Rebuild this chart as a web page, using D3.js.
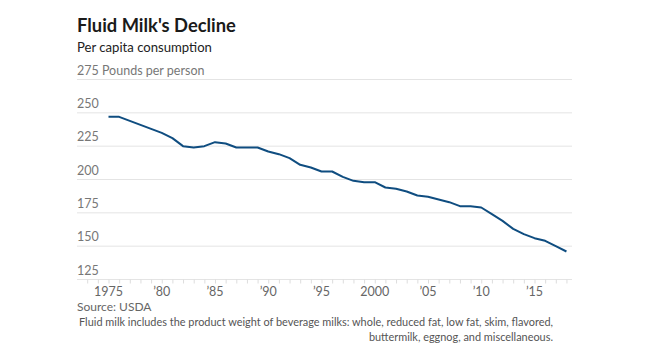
<!DOCTYPE html>
<html><head><meta charset="utf-8">
<script src="https://cdn.jsdelivr.net/npm/d3@7"></script>
<style>body{margin:0;background:#fff}svg{display:block}text{font-family:Lato,sans-serif}</style>
</head><body><svg id="c" width="650" height="350"></svg>
<script>
const years = d3.range(1975, 2019);
const values = [247,247,244,241,238,235,231,225,224,225,228,227,224,224,224,221,219,216,211,209,206,206,202,199,198,198,194,193,191,188,187,185,183,180,180,179,174,169,163,159,156,154,150,146];
const yTicks = [125,150,175,200,225,250,275];
const xTicks = [1975,1980,1985,1990,1995,2000,2005,2010,2015];
const xTickLabels = ["1975","’80","’85","’90","’95","2000","’05","’10","’15"];
const title = "Fluid Milk's Decline";
const subtitle = "Per capita consumption";
const unitLabel = "Pounds per person";
const source = "Source: USDA";
const note = ["Fluid milk includes the product weight of beverage milks: whole, reduced fat, low fat, skim, flavored,", "buttermilk, eggnog, and miscellaneous."];

const svg = d3.select("#c");
const left = 77, right = 572;
const x = d3.scaleLinear().domain([1975, 2015]).range([108.5, 534.5]);
const y = d3.scaleLinear().domain([125, 275]).range([279.5, 79.5]);

function fit(sel, w) {
  const n = sel.node(); const l = n.getComputedTextLength();
  const fs = parseFloat(sel.attr("font-size"));
  sel.attr("font-size", (fs * w / l).toFixed(2));
}

fit(svg.append("text").attr("x", left).attr("y", 32).attr("font-size", 19).attr("font-weight", 700).attr("fill", "#1a1a1a").text(title), 159);
fit(svg.append("text").attr("x", left).attr("y", 52).attr("font-size", 14).attr("fill", "#222").text(subtitle), 135);

// gridlines
const g = svg.append("g");
yTicks.forEach(t => {
  g.append("line").attr("x1", left).attr("x2", right).attr("y1", y(t)).attr("y2", y(t))
    .attr("stroke", "#e4e4e4").attr("stroke-width", 1);
  g.append("text").attr("x", left).attr("y", y(t) - 5).attr("font-size", 12.5).attr("fill", "#777")
    .text(t === 275 ? t + " " + unitLabel : t);
});

// x axis
const xAxis = d3.axisBottom(x).tickValues(d3.range(1973, 2019)).tickSize(4).tickFormat("");
const ax = svg.append("g").attr("transform", `translate(0,${y(125)})`).call(xAxis);
ax.select(".domain").remove();
ax.selectAll("line").attr("stroke", "#ddd");
xTicks.forEach((t, i) => {
  svg.append("text").attr("x", x(t)).attr("y", 296).attr("text-anchor", "middle")
    .attr("font-size", 12.5).attr("fill", "#666").text(xTickLabels[i]);
});

const line = d3.line().x((d, i) => x(years[i])).y(d => y(d));
svg.append("path").datum(values).attr("d", line).attr("fill", "none")
  .attr("stroke", "#0f4d80").attr("stroke-width", 2).attr("stroke-linejoin", "round");

svg.append("text").attr("x", left).attr("y", 311).attr("font-size", 12).attr("fill", "#666").text(source);
const n0 = svg.append("text").attr("x", 553).attr("y", 326).attr("text-anchor", "end")
  .attr("font-size", 12).attr("fill", "#555").text(note[0]);
fit(n0, 474);
svg.append("text").attr("x", 553).attr("y", 340.5).attr("text-anchor", "end")
  .attr("font-size", n0.attr("font-size")).attr("fill", "#555").text(note[1]);
</script></body></html>
